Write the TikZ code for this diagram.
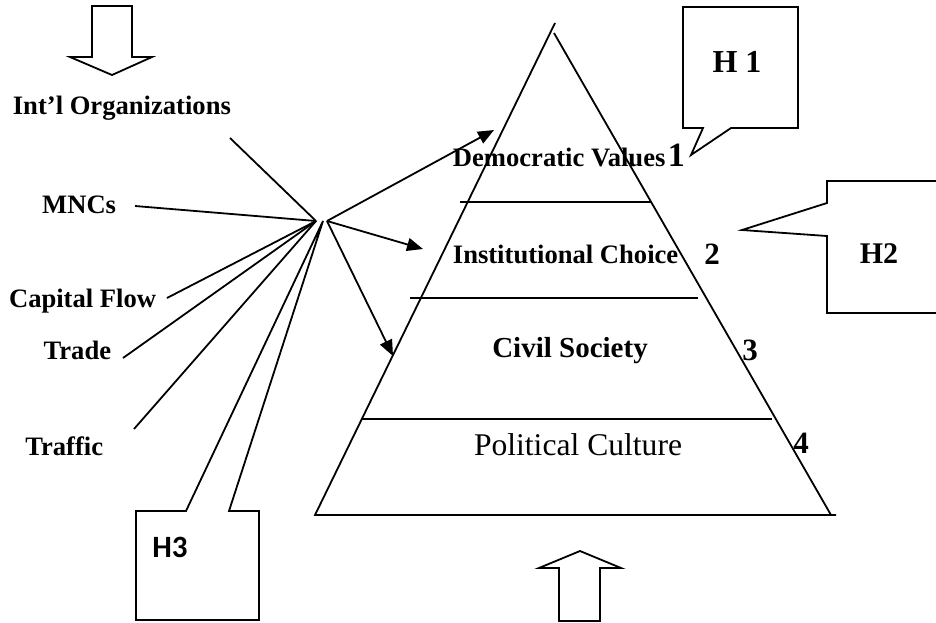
\documentclass[tikz,border=0pt]{standalone}
\usepackage{fontspec}
\setmainfont{Liberation Serif}
\newfontfamily\calfont{Carlito}
\usetikzlibrary{arrows.meta}

\begin{document}
\begin{tikzpicture}[x=0.5pt, y=-0.5pt, line width=0.9pt,
    lbl/.style={font=\fontsize{13.3}{15}\selectfont\bfseries, inner sep=0pt},
    num/.style={font=\fontsize{15.5}{17}\selectfont\bfseries, inner sep=0pt},
    hbox/.style={draw, line join=miter},
    push/.style={-{Triangle[length=8pt, width=6.5pt]}}
  ]
    \useasboundingbox (0,0) rectangle (936,622);

    % big open arrows
    \draw[hbox] (92,6) -- (132,6) -- (132,57) -- (152,57) -- (112,75) -- (70,57) -- (92,57) -- cycle;
    \draw[hbox] (559,621) -- (559,568) -- (539,568) -- (580,551) -- (621,568) -- (600,568) -- (600,621) -- cycle;

    % pyramid
    \coordinate (apL) at (555,23);
    \coordinate (apR) at (554,33);
    \coordinate (bL) at (315,515);
    \coordinate (bR) at (831,515);
    \draw (apL) -- (bL) -- (836,515);
    \draw (apR) -- (bR);
    \draw (460,202) -- (651,202);
    \draw (410,298) -- (698,298);
    \draw (362,419) -- (772,419);

    \node[lbl, anchor=west] (dv) at (452,157) {Democratic Values};
    \node[font=\fontsize{17}{19}\selectfont\bfseries, inner sep=0pt, anchor=west] (n1) at (667,155) {1};
    \node[lbl, anchor=west] (ic) at (452,254) {Institutional Choice};
    \node[num] (n2) at (712,254) {2};
    \node[font=\fontsize{14.5}{17}\selectfont\bfseries, inner sep=0pt] (cs) at (570,351) {Civil Society};
    \node[num] (n3) at (750,350) {3};
    \node[font=\fontsize{15.8}{18}\selectfont, inner sep=0pt] (pc) at (578,445) {Political Culture};
    \node[num] (n4) at (801,443) {4};

    % outside forces
    \node[lbl, anchor=west] (io)  at (12,108)  {Int'l Organizations};
    \node[lbl, anchor=east] (mnc) at (117,205) {MNCs};
    \node[lbl, anchor=east] (cf)  at (157,301) {Capital Flow};
    \node[lbl, anchor=east] (trd) at (112,350) {Trade};
    \node[lbl, anchor=east] (trf) at (104,446) {Traffic};

    \coordinate (hubL) at (316,221);
    \coordinate (hubM) at (323,221);
    \coordinate (hubR) at (327,221);
    \coordinate (ioS)  at (230,138);
    \coordinate (mncS) at (135,206);
    \coordinate (cfS)  at (167,298);
    \coordinate (trdS) at (123,358);
    \coordinate (trfS) at (134,429);
    \coordinate (toDV) at (494,130);
    \coordinate (toIC) at (423,249);
    \coordinate (toCS) at (393,356);

    \foreach \s in {ioS,mncS,cfS,trdS,trfS}
      \draw (\s) -- (hubL);
    \foreach \t in {toDV,toIC,toCS}
      \draw[push] (hubR) -- (\t);

    % hypothesis callouts
    \draw[hbox] (683,7) -- (798,7) -- (798,128) -- (731,128) -- (691,155) -- (703,128) -- (683,128) -- cycle;
    \node[font=\fontsize{16}{18}\selectfont\bfseries, inner sep=0pt] (h1) at (737,62) {H 1};
    \draw[hbox] (945,181) -- (827,181) -- (827,203) -- (742,230) -- (827,236) -- (827,313) -- (945,313);
    \node[font=\fontsize{15}{17}\selectfont\bfseries, inner sep=0pt] (h2) at (879,254) {H2};
    \draw[hbox] (136,511) -- (186,511) -- (hubM) -- (229,511) -- (259,511) -- (259,620) -- (136,620) -- cycle;
    \node[font=\calfont\fontsize{15.5}{18}\selectfont\bfseries, inner sep=0pt] (h3) at (170,547) {H3};
  \end{tikzpicture}
\end{document}
